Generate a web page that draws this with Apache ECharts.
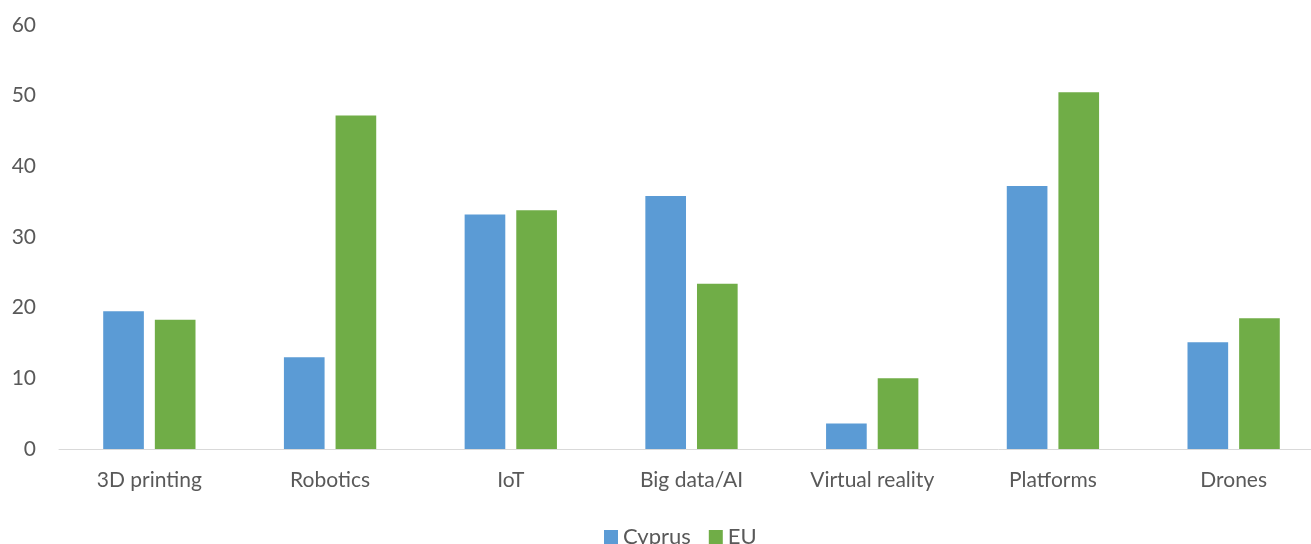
<!DOCTYPE html>
<html>
<head>
<meta charset="utf-8">
<script src="https://cdn.jsdelivr.net/npm/echarts@6/dist/echarts.min.js"></script>
<style>
  html, body { margin: 0; padding: 0; background: #fff; }
  #chart { width: 1311px; height: 544px; }
</style>
</head>
<body>
<div id="chart"></div>
<script>
var categories = ["3D printing", "Robotics", "IoT", "Big data/AI", "Virtual reality", "Platforms", "Drones"];
var cyprus = [19.5, 13.0, 33.2, 35.8, 3.6, 37.2, 15.1];
var eu = [18.3, 47.2, 33.8, 23.4, 10.0, 50.5, 18.5];
var textColor = "#595959";
var font = "Lato, 'Open Sans', sans-serif";

var chart = echarts.init(document.getElementById("chart"));
chart.setOption({
  animation: false,
  color: ["#5B9BD5", "#70AD47"],
  grid: {
    left: 59,
    right: -13,
    top: 25,
    bottom: 95,
    outerBoundsMode: "none",
  },
  legend: {
    data: ["Cyprus", "EU"],
    bottom: -9,
    left: 599,
    itemWidth: 14,
    itemHeight: 14,
    itemGap: 18,
    icon: "rect",
    textStyle: { color: textColor, fontSize: 22, fontFamily: font },
  },
  xAxis: {
    type: "category",
    data: categories,
    axisTick: { show: false },
    axisLine: { lineStyle: { color: "#D9D9D9", width: 1 } },
    axisLabel: { color: textColor, fontSize: 21, fontFamily: font, margin: 21 },
  },
  yAxis: {
    type: "value",
    min: 0,
    max: 60,
    interval: 10,
    splitLine: { show: false },
    axisLine: { show: false },
    axisTick: { show: false },
    axisLabel: { color: textColor, fontSize: 21, fontFamily: font, margin: 23 },
  },
  series: [
    {
      name: "Cyprus",
      type: "bar",
      data: cyprus,
      barWidth: "22.5%",
      barGap: "27%",
    },
    {
      name: "EU",
      type: "bar",
      data: eu,
      barWidth: "22.5%",
    },
  ],
});
</script>
</body>
</html>
